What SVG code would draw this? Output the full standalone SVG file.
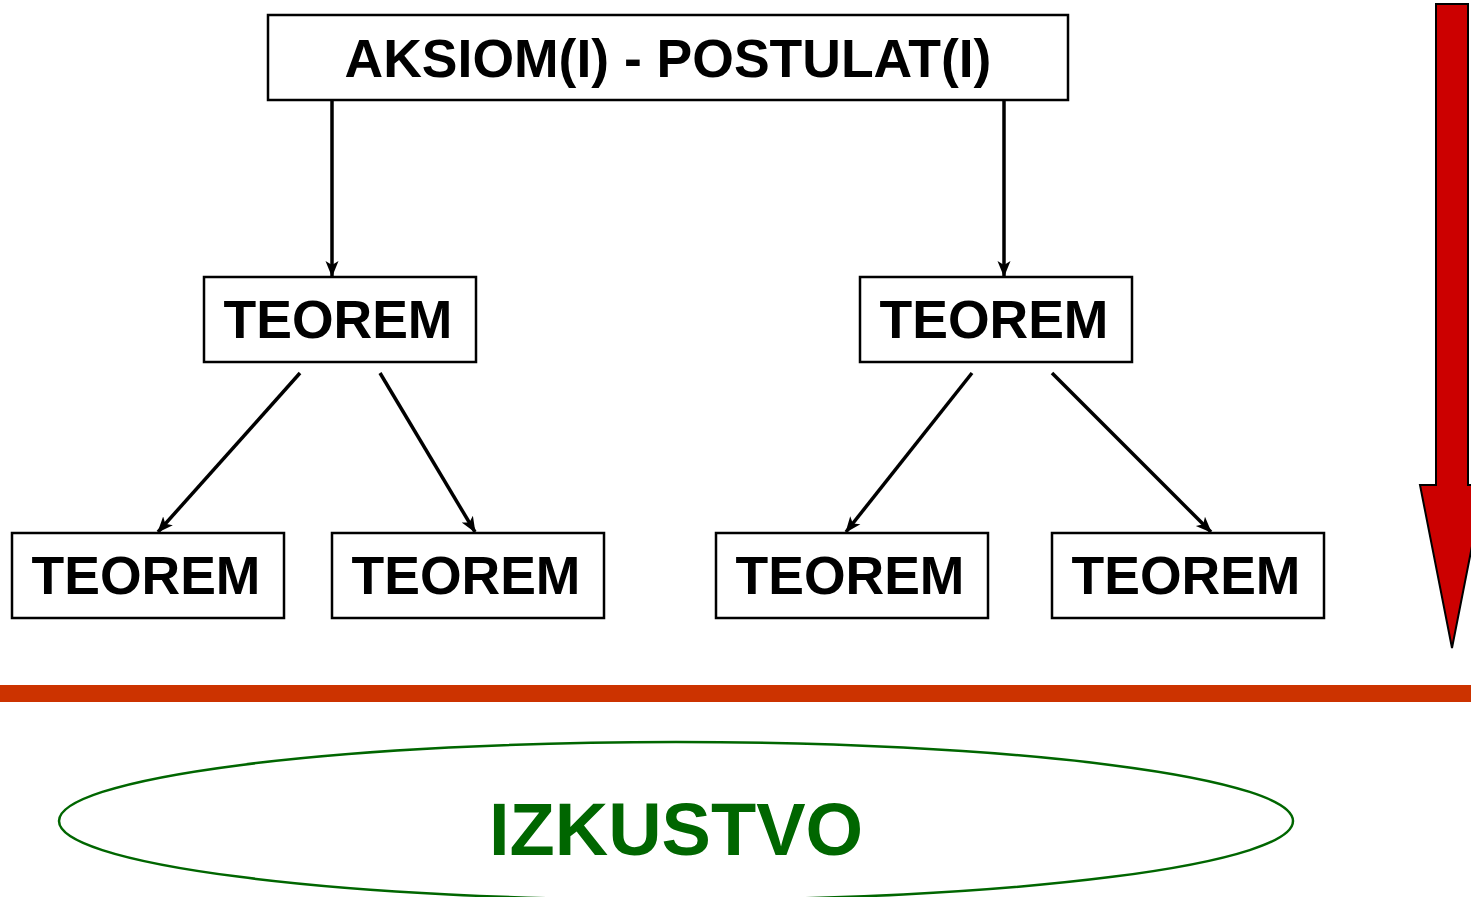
<svg xmlns="http://www.w3.org/2000/svg" width="1471" height="897" viewBox="0 0 1471 897">
<style>
.box{fill:#fff;stroke:#000;stroke-width:2.5}
.lbl{font-family:"Liberation Sans",Arial,sans-serif;font-weight:bold;font-size:53.5px;fill:#000;text-anchor:middle}
.con{stroke:#000;stroke-width:3.5;fill:none;marker-end:url(#ah)}
</style>
<defs>
<marker id="ah" markerWidth="16" markerHeight="16" viewBox="0 0 16 16" refX="15" refY="8" orient="auto" markerUnits="userSpaceOnUse">
<path d="M0,1.5 L16,8 L0,14.5 L4,8 Z" fill="#000"/>
</marker>
</defs>
<rect width="1471" height="897" fill="#fff"/>
<g id="connectors">
<line class="con" x1="332" y1="100" x2="332" y2="276"/>
<line class="con" x1="1004" y1="100" x2="1004" y2="276"/>
<line class="con" x1="300" y1="373" x2="158" y2="532"/>
<line class="con" x1="380" y1="373" x2="475" y2="532"/>
<line class="con" x1="972" y1="373" x2="846" y2="532"/>
<line class="con" x1="1052" y1="373" x2="1211" y2="532"/>
</g>
<g id="axiom">
<rect class="box" x="268" y="15" width="800" height="85"/>
<text class="lbl" x="668" y="77">AKSIOM(I) - POSTULAT(I)</text>
</g>
<g id="t1">
<rect class="box" x="204" y="277" width="272" height="85"/>
<text class="lbl" x="338" y="338">TEOREM</text>
</g>
<g id="t2">
<rect class="box" x="860" y="277" width="272" height="85"/>
<text class="lbl" x="994" y="338">TEOREM</text>
</g>
<g id="t3">
<rect class="box" x="12" y="533" width="272" height="85"/>
<text class="lbl" x="146" y="594">TEOREM</text>
</g>
<g id="t4">
<rect class="box" x="332" y="533" width="272" height="85"/>
<text class="lbl" x="466" y="594">TEOREM</text>
</g>
<g id="t5">
<rect class="box" x="716" y="533" width="272" height="85"/>
<text class="lbl" x="850" y="594">TEOREM</text>
</g>
<g id="t6">
<rect class="box" x="1052" y="533" width="272" height="85"/>
<text class="lbl" x="1186" y="594">TEOREM</text>
</g>
<g id="bigarrow">
<path d="M1436,4 L1468,4 L1468,485 L1484,485 L1452,648 L1420,485 L1436,485 Z" fill="#cc0000" stroke="#000" stroke-width="2"/>
</g>
<g id="divider">
<rect x="0" y="685" width="1471" height="17" fill="#cc3300"/>
</g>
<g id="experience">
<ellipse cx="676" cy="821" rx="617" ry="79" fill="none" stroke="#006600" stroke-width="2.5"/>
<text x="676" y="855" font-family="Liberation Sans, Arial, sans-serif" font-weight="bold" font-size="74" fill="#006600" text-anchor="middle">IZKUSTVO</text>
</g>
</svg>
